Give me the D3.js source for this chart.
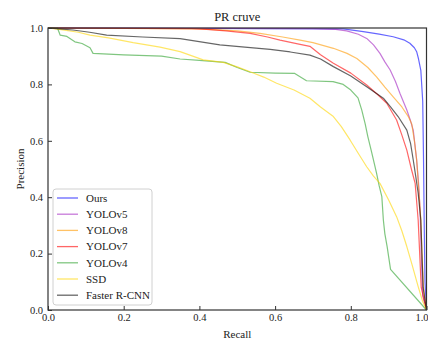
<!DOCTYPE html>
<html>
<head>
<meta charset="utf-8">
<script src="https://cdn.jsdelivr.net/npm/d3@7"></script>
<style>
  body { margin: 0; background: #fff; }
  text { font-family: "Liberation Serif", "Times New Roman", serif; fill: #222; }
</style>
</head>
<body>
<div class="draw-pr"></div>
<script>
// legend order = draw order
const names = ["Ours", "YOLOv5", "YOLOv8", "YOLOv7", "YOLOv4", "SSD", "Faster R-CNN"];
const colors = ["#0000ff", "#a020c0", "#ff9900", "#ff0000", "#2ca02c", "#ffd500", "#000000"];
const tickValues = [0, 0.2, 0.4, 0.6, 0.8, 1.0];

// [recall, precision] pairs
const ours = [[0,1],[0.78,0.997],[0.833,0.987],[0.875,0.978],[0.912,0.969],[0.94,0.958],[0.956,0.946],[0.968,0.93],[0.974,0.916],[0.979,0.89],[0.985,0.85],[0.99,0.74],[0.992,0.55],[0.994,0.3],[0.996,0.1],[1.0,0]];
const yolov5 = [[0,1],[0.7,0.998],[0.76,0.995],[0.789,0.99],[0.82,0.978],[0.842,0.963],[0.86,0.94],[0.877,0.91],[0.89,0.88],[0.904,0.851],[0.918,0.81],[0.93,0.768],[0.948,0.709],[0.958,0.67],[0.965,0.638],[0.974,0.532],[0.979,0.45],[0.983,0.355],[0.986,0.2],[0.99,0.05],[1.0,0]];
const yolov8 = [[0,1],[0.4,0.997],[0.5,0.99],[0.56,0.981],[0.62,0.968],[0.666,0.957],[0.7,0.948],[0.754,0.928],[0.79,0.91],[0.816,0.892],[0.845,0.86],[0.868,0.827],[0.89,0.79],[0.912,0.756],[0.935,0.72],[0.952,0.686],[0.961,0.66],[0.968,0.6],[0.974,0.532],[0.98,0.42],[0.985,0.319],[0.988,0.2],[0.992,0.08],[1.0,0]];
const yolov7 = [[0,1],[0.38,0.998],[0.419,0.995],[0.47,0.99],[0.534,0.981],[0.58,0.968],[0.613,0.957],[0.666,0.942],[0.692,0.935],[0.72,0.905],[0.754,0.875],[0.8,0.84],[0.842,0.798],[0.87,0.765],[0.895,0.733],[0.921,0.674],[0.935,0.62],[0.948,0.567],[0.96,0.5],[0.97,0.449],[0.978,0.319],[0.982,0.2],[0.986,0.08],[1.0,0]];
const yolov4 = [[0,1],[0.025,1.0],[0.032,0.975],[0.05,0.97],[0.071,0.951],[0.09,0.945],[0.111,0.93],[0.119,0.91],[0.2,0.905],[0.3,0.9],[0.349,0.89],[0.4,0.885],[0.468,0.878],[0.5,0.86],[0.534,0.843],[0.6,0.84],[0.652,0.839],[0.683,0.813],[0.753,0.81],[0.78,0.8],[0.8,0.78],[0.819,0.752],[0.829,0.709],[0.838,0.66],[0.845,0.615],[0.855,0.56],[0.868,0.485],[0.875,0.44],[0.882,0.402],[0.886,0.319],[0.89,0.27],[0.896,0.225],[0.905,0.144],[1.0,0]];
const ssd = [[0,1],[0.03,0.995],[0.08,0.985],[0.111,0.975],[0.16,0.965],[0.225,0.948],[0.296,0.932],[0.349,0.916],[0.41,0.887],[0.463,0.878],[0.5,0.862],[0.534,0.845],[0.57,0.826],[0.604,0.804],[0.65,0.78],[0.692,0.751],[0.72,0.72],[0.754,0.686],[0.775,0.65],[0.798,0.603],[0.82,0.555],[0.842,0.508],[0.86,0.475],[0.877,0.449],[0.9,0.39],[0.921,0.331],[0.935,0.28],[0.948,0.225],[0.962,0.16],[0.978,0.083],[0.99,0.03],[1.0,0]];
const fasterRcnn = [[0,1],[0.03,0.997],[0.066,0.993],[0.11,0.985],[0.155,0.975],[0.25,0.968],[0.349,0.962],[0.454,0.94],[0.52,0.932],[0.587,0.924],[0.64,0.915],[0.692,0.904],[0.72,0.89],[0.754,0.863],[0.8,0.83],[0.842,0.792],[0.886,0.751],[0.905,0.72],[0.925,0.686],[0.948,0.638],[0.958,0.59],[0.965,0.532],[0.972,0.47],[0.978,0.414],[0.985,0.319],[0.988,0.2],[0.991,0.08],[1.0,0]];

const curves = [ours, yolov5, yolov8, yolov7, yolov4, ssd, fasterRcnn];

const W = 428, H = 340;
const margin = { top: 28, right: 1.5, bottom: 30, left: 48 };
const width = W - margin.left - margin.right;
const height = H - margin.top - margin.bottom;

const svg = d3.select(".draw-pr").append("svg")
  .attr("width", W).attr("height", H)
  .style("display", "block");

const g = svg.append("g")
  .attr("transform", "translate(" + margin.left + "," + margin.top + ")");

const x = d3.scaleLinear().domain([0, 1]).range([0, width]);
const y = d3.scaleLinear().domain([0, 1]).range([height, 0]);

// curves
const line = d3.line().x(d => x(d[0])).y(d => y(d[1]));
curves.forEach((c, i) => {
  g.append("path")
    .datum(c)
    .attr("fill", "none")
    .attr("stroke", colors[i])
    .attr("stroke-opacity", 0.6)
    .attr("stroke-width", 1.2)
    .attr("stroke-linejoin", "round")
    .attr("d", line);
});

// axes, ticks pointing inward
const fmt = d3.format(".1f");
const xAxis = g.append("g")
  .attr("transform", "translate(0," + height + ")")
  .call(d3.axisBottom(x).tickValues(tickValues).tickFormat(fmt).tickSizeInner(-4).tickSizeOuter(0).tickPadding(4));
const yAxis = g.append("g")
  .call(d3.axisLeft(y).tickValues(tickValues).tickFormat(fmt).tickSizeInner(-4).tickSizeOuter(0).tickPadding(5));
[xAxis, yAxis].forEach(a => {
  a.attr("font-family", null);
  a.select(".domain").remove();
  a.selectAll(".tick line").attr("stroke", "#333").attr("stroke-width", 1);
  a.selectAll("text").attr("font-size", 10.5).attr("fill", "#222")
    .style("font-family", "'Liberation Serif', serif");
});
// last x label sits on the page edge: keep it inside
xAxis.selectAll(".tick text").filter(d => d === 1)
  .attr("text-anchor", "end").attr("x", 1.5);

// frame
g.append("rect")
  .attr("width", width).attr("height", height)
  .attr("fill", "none").attr("stroke", "#333").attr("stroke-width", 1.2);

// titles
svg.append("text")
  .attr("x", margin.left + width / 2).attr("y", 20.5)
  .attr("text-anchor", "middle").attr("font-size", 12.5)
  .text("PR cruve");
svg.append("text")
  .attr("x", margin.left + width / 2).attr("y", 337.5)
  .attr("text-anchor", "middle").attr("font-size", 11)
  .text("Recall");
svg.append("text")
  .attr("transform", "translate(24," + (margin.top + height / 2) + ") rotate(-90)")
  .attr("text-anchor", "middle").attr("font-size", 11)
  .text("Precision");

// legend
const leg = svg.append("g").attr("transform", "translate(53,189)");
leg.append("rect")
  .attr("width", 99).attr("height", 116).attr("rx", 3)
  .attr("fill", "#fff").attr("fill-opacity", 0.8)
  .attr("stroke", "#d0d0d0").attr("stroke-width", 1);
names.forEach((n, i) => {
  const yy = 9 + i * 16.2;
  leg.append("line")
    .attr("x1", 4).attr("x2", 25).attr("y1", yy).attr("y2", yy)
    .attr("stroke", colors[i]).attr("stroke-opacity", 0.6).attr("stroke-width", 1.3);
  leg.append("text")
    .attr("x", 33).attr("y", yy).attr("dy", "0.35em")
    .attr("font-size", 11)
    .text(n);
});
</script>
</body>
</html>
